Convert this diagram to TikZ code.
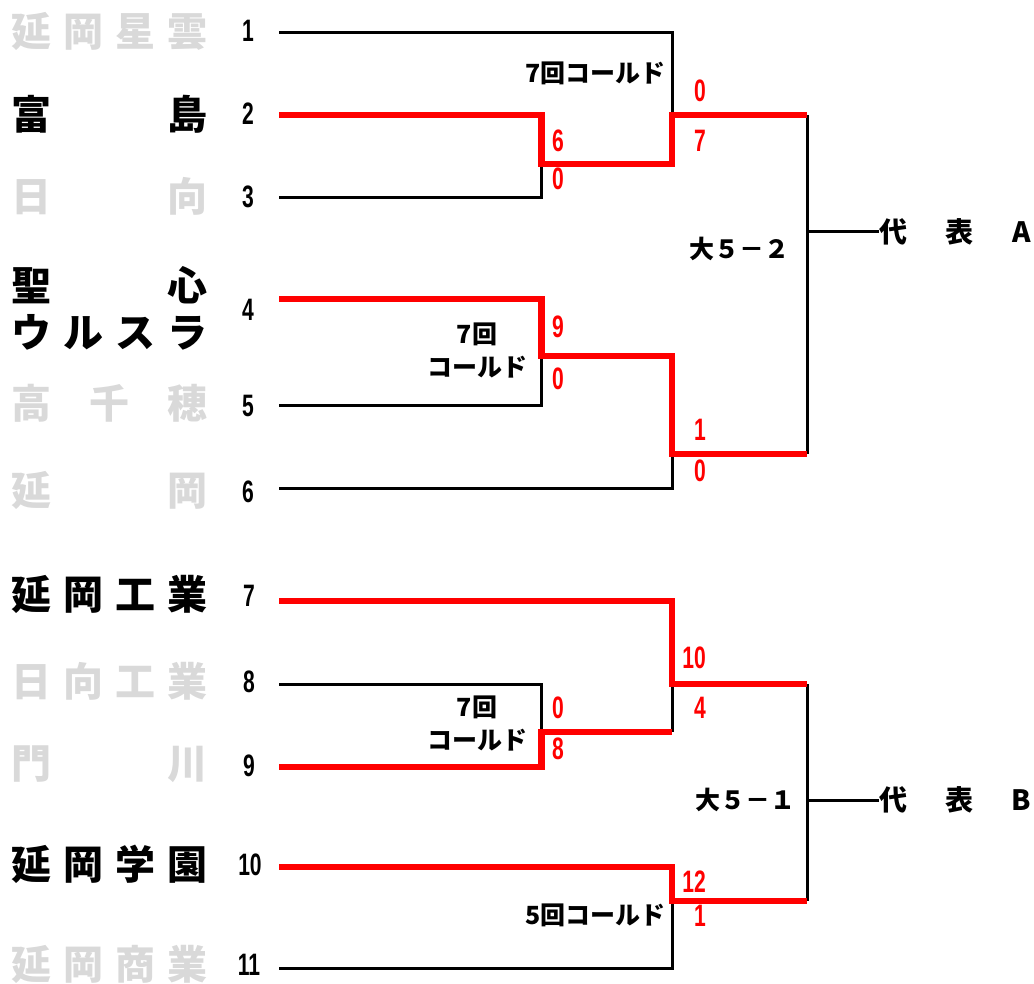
\documentclass[tikz,border=0pt]{standalone}
\usepackage{fontspec}
\newfontfamily\cjk{Noto Sans CJK JP}
\newfontfamily\numf{Liberation Sans}[FakeStretch=0.68]
\definecolor{loser}{HTML}{D9D9D9}
\definecolor{winred}{HTML}{FF0000}
\tikzset{
  team/.style={inner sep=0pt, anchor=center, font=\cjk\bfseries\fontsize{40}{40}\selectfont},
  won/.style={team, text=black},
  lost/.style={team, text=loser},
  seed/.style={inner sep=0pt, anchor=center, font=\numf\bfseries\fontsize{31}{31}\selectfont},
  score/.style={seed, text=winred},
  note/.style={inner sep=0pt, font=\cjk\bfseries\fontsize{25}{33}\selectfont, align=center},
  rep/.style={inner sep=0pt, anchor=west, font=\cjk\bfseries\fontsize{28}{28}\selectfont},
  bline/.style={draw=black, line width=3pt},
  rline/.style={draw=winred, line width=6.5pt},
}
\newcommand{\nm}[1]{\makebox[196pt][s]{#1}}
\begin{document}
\begin{tikzpicture}[x=1pt, y=-1pt]
\useasboundingbox (0,0) rectangle (1034,984);
% team names
\node[lost] (team1) at (110,31) {\nm{延\hfill 岡\hfill 星\hfill 雲}};
\node[won] (team2) at (110,114) {\nm{富\hfill 島}};
\node[lost] (team3) at (110,196) {\nm{日\hfill 向}};
\node[won] (team4a) at (110,285) {\nm{聖\hfill 心}};
\node[won] (team4b) at (110,332) {\nm{ウ\hfill ル\hfill ス\hfill ラ}};
\node[lost] (team5) at (110,403) {\nm{高\hfill 千\hfill 穂}};
\node[lost] (team6) at (110,490) {\nm{延\hfill 岡}};
\node[won] (team7) at (110,594) {\nm{延\hfill 岡\hfill 工\hfill 業}};
\node[lost] (team8) at (110,681) {\nm{日\hfill 向\hfill 工\hfill 業}};
\node[lost] (team9) at (110,764) {\nm{門\hfill 川}};
\node[won] (team10) at (110,864) {\nm{延\hfill 岡\hfill 学\hfill 園}};
\node[lost] (team11) at (110,964) {\nm{延\hfill 岡\hfill 商\hfill 業}};
% seed numbers
\node[seed] (n1) at (248,31) {1};
\node[seed] (n2) at (248,114) {2};
\node[seed] (n3) at (248,197) {3};
\node[seed] (n4) at (248,310) {4};
\node[seed] (n5) at (248,406) {5};
\node[seed] (n6) at (248,492) {6};
\node[seed] (n7) at (249,596) {7};
\node[seed] (n8) at (249,682) {8};
\node[seed] (n9) at (249,766) {9};
\node[seed] (n10) at (250,865) {10};
\node[seed] (n11) at (249,965) {11};
% bracket coordinates
\coordinate (s1) at (279,33);
\coordinate (s2) at (279,115);
\coordinate (s3) at (279,198);
\coordinate (s4) at (279,299);
\coordinate (s5) at (279,405);
\coordinate (s6) at (279,488);
\coordinate (s7) at (279,601);
\coordinate (s8) at (279,684);
\coordinate (s9) at (279,767);
\coordinate (s10) at (279,867);
\coordinate (s11) at (279,968);
\coordinate (m23) at (541.5,164);
\coordinate (m45) at (541.5,356);
\coordinate (m89) at (541.5,732);
\coordinate (j1) at (672,115);
\coordinate (j6) at (672,454);
\coordinate (j7) at (672,684);
\coordinate (j9) at (672,732);
\coordinate (j11) at (672,901);
\coordinate (a1) at (807,115);
\coordinate (a2) at (807,454);
\coordinate (fa) at (807,232);
\coordinate (b1) at (807,684);
\coordinate (b2) at (807,901);
\coordinate (fb) at (807,800);
% representatives
\node[rep] (repA) at (879,232) {\makebox[152pt][s]{代\hfill 表\hfill A}};
\node[rep] (repB) at (879,800) {\makebox[152pt][s]{代\hfill 表\hfill B}};
% black lines
\draw[bline] (s1) -| (j1);
\draw[bline] (s3) -| (m23);
\draw[bline] (s5) -| (m45);
\draw[bline] (s6) -| (j6);
\draw[bline] (a1) -- (a2);
\draw[bline] (fa) -- (repA.west);
\draw[bline] (s8) -| (m89);
\draw[bline] (j9) -- (j7);
\draw[bline] (s11) -| (j11);
\draw[bline] (b1) -- (b2);
\draw[bline] (fb) -- (repB.west);
% red winner lines
\draw[rline] (s2) -| (m23) -| (j1) -- (a1);
\draw[rline] (s4) -| (m45) -| (j6) -- (a2);
\draw[rline] (s7) -| (j7) -- (b1);
\draw[rline] (s9) -| (m89) -- (j9);
\draw[rline] (s10) -| (j11) -- (b2);
% scores
\node[score] (sc1) at (700,91) {0};
\node[score] (sc2) at (700,141) {7};
\node[score] (sc3) at (558,141) {6};
\node[score] (sc4) at (558,179) {0};
\node[score] (sc5) at (558,327) {9};
\node[score] (sc6) at (558,379) {0};
\node[score] (sc7) at (700,430) {1};
\node[score] (sc8) at (700,471) {0};
\node[score] (sc9) at (694,658) {10};
\node[score] (sc10) at (700,708) {4};
\node[score] (sc11) at (558,708) {0};
\node[score] (sc12) at (558,749) {8};
\node[score] (sc13) at (694,882) {12};
\node[score] (sc14) at (700,916) {1};
% notes
\node[note, anchor=east] (c1) at (666,73) {7回コールド};
\node[note] (c2) at (477,351) {7回\\コールド};
\node[note] (c3) at (477,724) {7回\\コールド};
\node[note, anchor=east] (c4) at (666,915) {5回コールド};
\node[note, anchor=east] (r1) at (790,249) {大５－２};
\node[note, anchor=east] (r2) at (796,800) {大５－１};
\end{tikzpicture}
\end{document}
